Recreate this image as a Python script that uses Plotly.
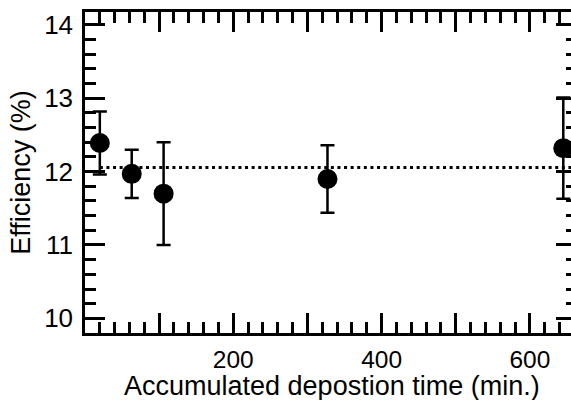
import plotly.graph_objects as go
import numpy as np

# Data
time_min = [20, 63, 106, 327, 645]
efficiency = [12.39, 11.97, 11.70, 11.90, 12.32]
eff_err = [0.43, 0.33, 0.70, 0.46, 0.69]
mean_line_x = [20, 660]

x_tickvals = [0, 100, 200, 300, 400, 500, 600]
x_ticktext = ["", "", "200", "", "400", "", "600"]
y_tickvals = [10, 11, 12, 13, 14]
y_ticktext = ["10", "11", "12", "13", "14"]
x_title = "Accumulated depostion time (min.)"
y_title = "Efficiency (%)"

mean_eff = float(np.mean(efficiency))

font_family = "Liberation Sans, Arial, sans-serif"

fig = go.Figure()

fig.add_trace(go.Scatter(
    x=mean_line_x, y=[mean_eff, mean_eff], mode="lines",
    line=dict(color="black", width=3, dash="3px,3.6px"),
    showlegend=False, hoverinfo="skip",
))

fig.add_trace(go.Scatter(
    x=time_min, y=efficiency, mode="markers",
    marker=dict(color="black", size=20, symbol="circle"),
    error_y=dict(type="data", array=eff_err, visible=True,
                 color="black", thickness=2.5, width=7),
    showlegend=False, cliponaxis=False,
))

# invisible trace to carry the right-hand tick axis
fig.add_trace(go.Scatter(x=[None], y=[None], yaxis="y2",
                         showlegend=False, hoverinfo="skip"))

fig.update_layout(
    width=571, height=400,
    margin=dict(l=85, r=0, t=12, b=67),
    paper_bgcolor="white", plot_bgcolor="white",
    font=dict(family=font_family, size=25, color="black"),
    xaxis=dict(
        range=[0, 655.4],
        tickmode="array", tickvals=x_tickvals, ticktext=x_ticktext,
        ticks="inside", ticklen=20, tickwidth=2.5, tickcolor="black",
        minor=dict(dtick=20, tick0=0, ticks="inside", ticklen=11,
                   tickwidth=2.5, tickcolor="black"),
        showline=True, linecolor="black", linewidth=2.5, mirror="ticks",
        showgrid=False, zeroline=False,
        tickfont=dict(size=24.5),
        ticklabelstandoff=3,
    ),
    yaxis=dict(
        range=[9.8, 14.177],
        tickmode="array", tickvals=y_tickvals, ticktext=y_ticktext,
        ticks="inside", ticklen=20, tickwidth=2.5, tickcolor="black",
        minor=dict(dtick=0.2, tick0=10, ticks="inside", ticklen=11,
                   tickwidth=2.5, tickcolor="black"),
        showline=True, linecolor="black", linewidth=2.5, mirror=False,
        showgrid=False, zeroline=False,
        tickfont=dict(size=26),
        ticklabelstandoff=4,
        title=dict(text=y_title, font=dict(size=27), standoff=6),
    ),
    yaxis2=dict(
        overlaying="y", side="right", matches="y",
        range=[9.8, 14.177],
        tickmode="array", tickvals=y_tickvals,
        ticks="inside", ticklen=15, tickwidth=2.5, tickcolor="black",
        minor=dict(dtick=0.2, tick0=10, ticks="inside", ticklen=5,
                   tickwidth=2.5, tickcolor="black"),
        showline=False, showticklabels=False,
        showgrid=False, zeroline=False,
    ),
    annotations=[dict(
        text=x_title, xref="paper", yref="paper", x=0.5, y=0,
        xanchor="center", yanchor="top", xshift=4, yshift=-37,
        showarrow=False, font=dict(size=27), borderpad=0,
    )],
)

fig.write_html("out.html")
